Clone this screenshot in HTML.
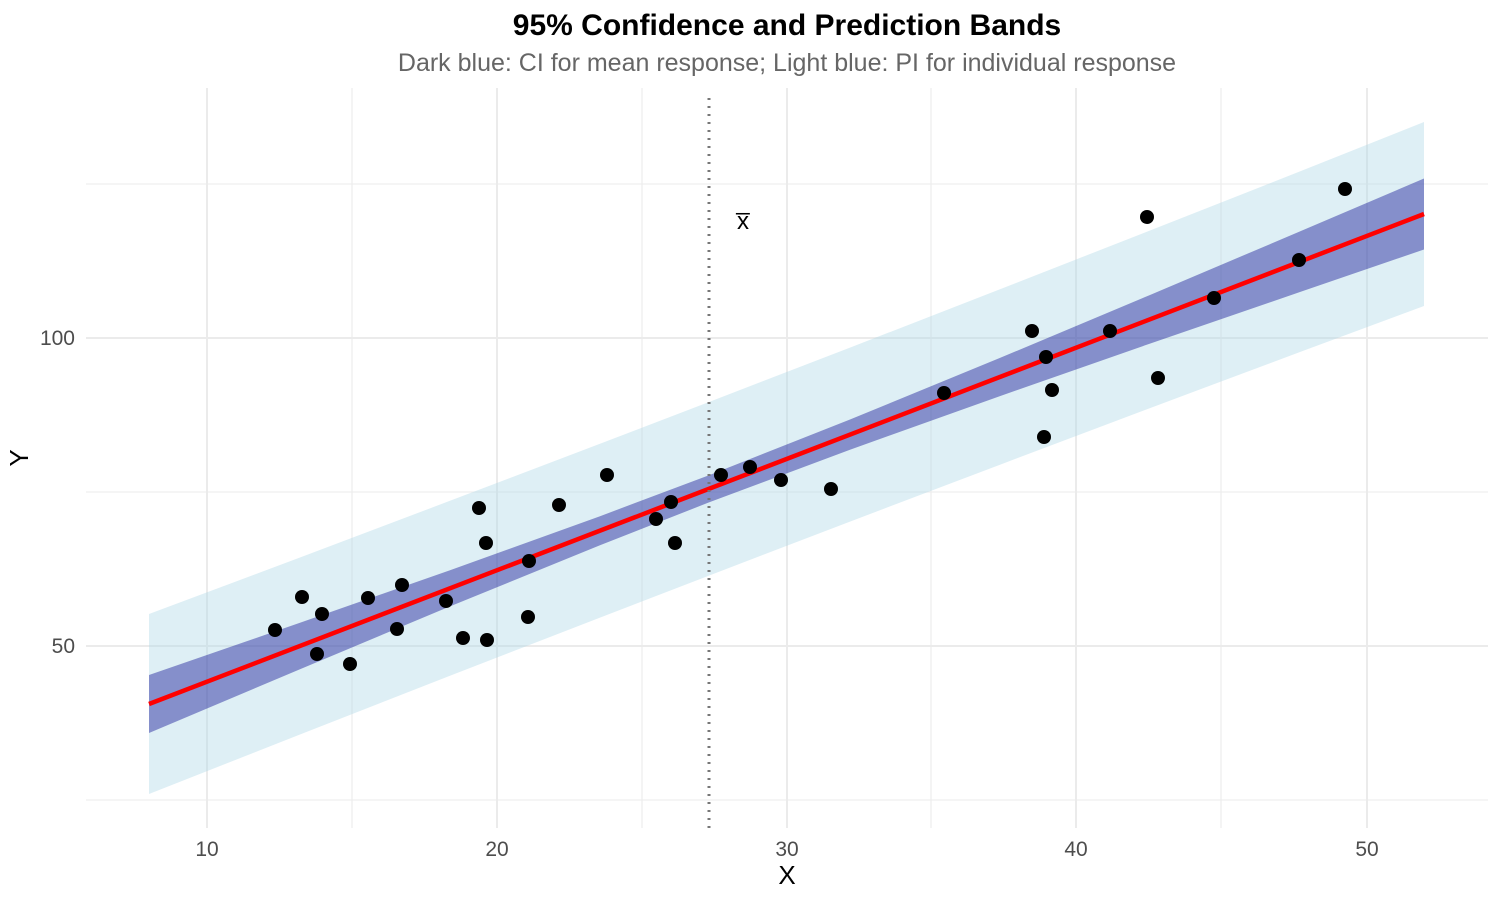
<!DOCTYPE html>
<html><head><meta charset="utf-8"><style>
body{margin:0;background:#fff;}
text{font-family:"Liberation Sans",Arial,sans-serif;}
</style></head><body>
<svg width="1500" height="900" xmlns="http://www.w3.org/2000/svg">
<rect width="1500" height="900" fill="#fff"/>
<g stroke="#ebebeb" stroke-width="1.1">
<line x1="86" x2="1488" y1="184" y2="184"/><line x1="86" x2="1488" y1="492" y2="492"/><line x1="86" x2="1488" y1="800" y2="800"/>
<line x1="352" x2="352" y1="88" y2="828"/><line x1="642" x2="642" y1="88" y2="828"/><line x1="931" x2="931" y1="88" y2="828"/><line x1="1221" x2="1221" y1="88" y2="828"/>
</g>
<g stroke="#ebebeb" stroke-width="2">
<line x1="86" x2="1488" y1="338" y2="338"/><line x1="86" x2="1488" y1="646" y2="646"/>
<line x1="207" x2="207" y1="88" y2="828"/><line x1="497" x2="497" y1="88" y2="828"/><line x1="787" x2="787" y1="88" y2="828"/><line x1="1076" x2="1076" y1="88" y2="828"/><line x1="1367" x2="1367" y1="88" y2="828"/>
</g>
<polygon fill="#add8e6" fill-opacity="0.4" points="149,614 300,557.5 450,500.8 600,443.8 709,402 850,347.6 1000,289.3 1150,230.5 1300,171.4 1424,122 1424,306 1300,352 1150,408.1 1000,464.7 850,521.6 709,575.6 600,617.6 450,675.8 300,734.5 149,794"/>
<polygon fill="#00008b" fill-opacity="0.4" points="149,675 300,622.8 450,570.2 600,516.2 709,475.2 850,419.5 1000,357.9 1150,295 1300,231.4 1424,178.5 1424,249.5 1300,292 1150,343.6 1000,396.1 850,449.7 709,502.4 600,545.2 450,606.4 300,669.2 149,733"/>
<line x1="149" y1="704" x2="1424" y2="214" stroke="#ff0000" stroke-width="4.5"/>
<line x1="709" y1="98" x2="709" y2="828" stroke="#777" stroke-width="3" stroke-dasharray="2,6"/>
<text x="743" y="229" font-size="24" text-anchor="middle" fill="#000">x̅</text>
<g fill="#000">
<circle cx="275" cy="630" r="7"/><circle cx="302" cy="597" r="7"/><circle cx="317" cy="654" r="7"/><circle cx="322" cy="614" r="7"/><circle cx="350" cy="664" r="7"/><circle cx="368" cy="598" r="7"/><circle cx="397" cy="629" r="7"/><circle cx="402" cy="585" r="7"/><circle cx="446" cy="601" r="7"/><circle cx="463" cy="638" r="7"/><circle cx="479" cy="508" r="7"/><circle cx="486" cy="543" r="7"/><circle cx="487" cy="640" r="7"/><circle cx="528" cy="617" r="7"/><circle cx="529" cy="561" r="7"/><circle cx="559" cy="505" r="7"/><circle cx="607" cy="475" r="7"/><circle cx="656" cy="519" r="7"/><circle cx="671" cy="502" r="7"/><circle cx="675" cy="543" r="7"/><circle cx="721" cy="475" r="7"/><circle cx="750" cy="467" r="7"/><circle cx="781" cy="480" r="7"/><circle cx="831" cy="489" r="7"/><circle cx="944" cy="393" r="7"/><circle cx="1032" cy="331" r="7"/><circle cx="1044" cy="437" r="7"/><circle cx="1046" cy="357" r="7"/><circle cx="1052" cy="390" r="7"/><circle cx="1110" cy="331" r="7"/><circle cx="1147" cy="217" r="7"/><circle cx="1158" cy="378" r="7"/><circle cx="1214" cy="298" r="7"/><circle cx="1299" cy="260" r="7"/><circle cx="1345" cy="189" r="7"/>
</g>
<g font-size="21" fill="#4d4d4d">
<text x="75" y="345" text-anchor="end">100</text><text x="75" y="653" text-anchor="end">50</text>
<g text-anchor="middle"><text x="207" y="856">10</text><text x="497" y="856">20</text><text x="787" y="856">30</text><text x="1076" y="856">40</text><text x="1367" y="856">50</text></g>
</g>
<text x="787" y="884" font-size="26" text-anchor="middle" fill="#000">X</text>
<text x="0" y="0" font-size="26" text-anchor="middle" fill="#000" transform="translate(28,458) rotate(-90)">Y</text>
<text x="787" y="35" font-size="30" font-weight="bold" text-anchor="middle" fill="#000">95% Confidence and Prediction Bands</text>
<text x="787" y="71" font-size="25" text-anchor="middle" fill="#666">Dark blue: CI for mean response; Light blue: PI for individual response</text>
</svg>
</body></html>
